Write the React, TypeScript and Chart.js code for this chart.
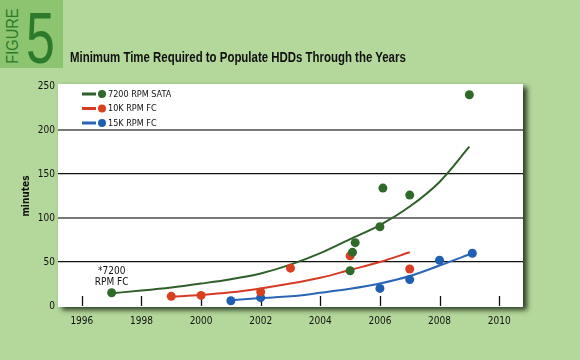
import React, { useEffect, useRef } from "react";
import { Chart, registerables } from "chart.js";

Chart.register(...registerables);

// ---- data ----
const xTickYears = [1996, 1998, 2000, 2002, 2004, 2006, 2008, 2010];

const sataYears = [1997, 2005, 2005.08, 2005.17, 2006, 2006.1, 2007, 2009];
const sataMinutes = [15, 40, 61, 72, 90, 134, 126, 240];
const fc10kYears = [1999, 2000, 2002, 2003, 2005, 2007];
const fc10kMinutes = [11, 12, 16, 43, 57, 42];
const fc15kYears = [2001, 2002, 2006, 2007, 2008, 2009.1];
const fc15kMinutes = [6, 9.5, 20, 30, 52, 60];

const sataTrendYears = [1997, 1998, 1999, 2000, 2001, 2002, 2003, 2004, 2005, 2006, 2007, 2008, 2009];
const sataTrend = [14.5, 17.5, 21, 25.5, 30.5, 37, 47, 60, 76, 92, 113, 141, 181];
const fc10kTrendYears = [1999, 2000, 2001, 2002, 2003, 2004, 2005, 2006, 2007];
const fc10kTrend = [10.5, 12.5, 15.5, 20, 25.5, 32, 41, 50, 61];
const fc15kTrendYears = [2001, 2002, 2003, 2004, 2005, 2006, 2007, 2008, 2009.1];
const fc15kTrend = [6.5, 9, 11, 15, 19.5, 25.5, 34, 46, 60];

const seriesNames = ["7200 RPM SATA", "10K RPM FC", "15K RPM FC"];
const pointColors = ["#2f6a2b", "#d8401f", "#1f5fb0"];
const lineColors = ["#2f5f2a", "#d63a24", "#2a66b5"];
const annotationLines = ["*7200", "RPM FC"];

const titleText = "Minimum Time Required to Populate HDDs Through the Years";
const yTitle = "minutes";

const FONT = "'DejaVu Sans Condensed', 'Liberation Sans Narrow', sans-serif";
const HEAD_FONT = "'Liberation Sans', Arial, sans-serif";

const zip = (xs: number[], ys: number[]) => xs.map((x, i) => ({ x, y: ys[i] }));

export default function App() {
  const ref = useRef<HTMLCanvasElement | null>(null);

  useEffect(() => {
    document.body.style.margin = "0";
    const canvas = ref.current;
    if (!canvas) return;

    const panelPlugin = {
      id: "panel",
      beforeDraw(chart: any) {
        const { ctx, chartArea } = chart;
        ctx.save();
        ctx.fillStyle = "#b4d79b";
        ctx.fillRect(0, 0, chart.width, chart.height);
        ctx.shadowColor = "rgba(30,45,25,0.9)";
        ctx.shadowBlur = 5;
        ctx.shadowOffsetX = 4;
        ctx.shadowOffsetY = 3;
        ctx.fillStyle = "#ffffff";
        ctx.fillRect(chartArea.left, chartArea.top - 2, chartArea.right - chartArea.left, chartArea.bottom - chartArea.top + 3);
        ctx.restore();
      },
      beforeDatasetsDraw(chart: any) {
        const { ctx, chartArea } = chart;
        const xs = chart.scales.x;
        ctx.save();
        ctx.strokeStyle = "#111";
        ctx.lineWidth = 1.3;
        xTickYears.forEach((v) => {
          const px = Math.round(xs.getPixelForValue(v)) + 0.5;
          ctx.beginPath();
          ctx.moveTo(px, chartArea.bottom - 10);
          ctx.lineTo(px, chartArea.bottom);
          ctx.stroke();
        });
        ctx.restore();
      },
      afterDraw(chart: any) {
        const { ctx, chartArea } = chart;
        ctx.save();
        // legend
        ctx.font = `9px ${FONT}`;
        ctx.textBaseline = "middle";
        ctx.textAlign = "left";
        seriesNames.forEach((name, i) => {
          const y = chartArea.top + 8 + i * 14.5;
          const lx = chartArea.left + 24;
          ctx.strokeStyle = lineColors[i];
          ctx.lineWidth = 3;
          ctx.beginPath();
          ctx.moveTo(lx, y);
          ctx.lineTo(lx + 14, y);
          ctx.stroke();
          ctx.fillStyle = pointColors[i];
          ctx.beginPath();
          ctx.arc(lx + 20, y, 4, 0, Math.PI * 2);
          ctx.fill();
          ctx.fillStyle = "#111";
          ctx.fillText(name, lx + 26, y + 0.5);
        });
        // annotation
        const xs = chart.scales.x;
        const ys = chart.scales.y;
        const ax = xs.getPixelForValue(sataYears[0]);
        const ay = ys.getPixelForValue(sataMinutes[0]);
        ctx.font = `10px ${FONT}`;
        ctx.textAlign = "center";
        ctx.fillStyle = "#111";
        ctx.fillText(annotationLines[0], ax, ay - 21);
        ctx.fillText(annotationLines[1], ax, ay - 10);
        ctx.restore();
      },
    };

    const scatterDs = (i: number, xs: number[], ys: number[]) => ({
      type: "scatter" as const,
      label: seriesNames[i],
      data: zip(xs, ys),
      backgroundColor: pointColors[i],
      borderColor: pointColors[i],
      pointRadius: 4.5,
      pointHoverRadius: 4.5,
      borderWidth: 0,
      order: 1,
    });
    const lineDs = (i: number, xs: number[], ys: number[]) => ({
      type: "line" as const,
      label: seriesNames[i] + " trend",
      data: zip(xs, ys),
      borderColor: lineColors[i],
      backgroundColor: lineColors[i],
      borderWidth: 2,
      pointRadius: 0,
      fill: false,
      tension: 0.4,
      cubicInterpolationMode: "monotone" as const,
      order: 2,
    });

    const chart = new Chart(canvas, {
      type: "scatter",
      data: {
        datasets: [
          scatterDs(0, sataYears, sataMinutes),
          scatterDs(1, fc10kYears, fc10kMinutes),
          scatterDs(2, fc15kYears, fc15kMinutes),
          lineDs(0, sataTrendYears, sataTrend),
          lineDs(1, fc10kTrendYears, fc10kTrend),
          lineDs(2, fc15kTrendYears, fc15kTrend),
        ] as any,
      },
      options: {
        responsive: false,
        animation: false,
        events: [],
        layout: { padding: { left: 8, right: 57, top: 86, bottom: 30 } },
        plugins: { legend: { display: false }, tooltip: { enabled: false }, title: { display: false } },
        scales: {
          x: {
            type: "linear",
            min: 1995.2,
            max: 2010.8,
            afterBuildTicks: (axis: any) => {
              axis.ticks = xTickYears.map((v) => ({ value: v }));
            },
            afterFit: (scale: any) => {
              scale.height = 24;
            },
            grid: { display: false, drawTicks: false },
            border: { display: false },
            ticks: {
              padding: 9,
              color: "#111",
              font: { family: FONT, size: 10 },
              maxRotation: 0,
              autoSkip: false,
              callback: (v: any) => String(v),
            },
          },
          y: {
            min: 0,
            max: 250,
            afterFit: (scale: any) => {
              scale.width = 50;
            },
            border: { display: false },
            grid: {
              drawTicks: false,
              color: (c: any) => {
                const v = c.tick?.value;
                if (v === 0 || v === 250) return "rgba(0,0,0,0)";
                return v % 100 === 0 ? "#777777" : "#111111";
              },
              lineWidth: (c: any) => (c.tick?.value % 100 === 0 ? 2 : 1.2),
            },
            ticks: {
              stepSize: 50,
              padding: 3,
              color: "#111",
              font: { family: FONT, size: 10 },
            },
            title: {
              display: true,
              text: yTitle,
              color: "#111",
              font: { family: FONT, size: 10, weight: "bold" },
              padding: { top: 12, bottom: 0 },
            },
          },
        },
      } as any,
      plugins: [panelPlugin],
    });
    return () => chart.destroy();
  }, []);

  return (
    <div style={{ position: "fixed", left: 0, top: 0, width: 580, height: 360, overflow: "hidden", background: "#b4d79b" }}>
      <canvas ref={ref} width={580} height={360} style={{ position: "absolute", left: 0, top: 0, width: 580, height: 360 }} />
      <div style={{ position: "absolute", left: 0, top: 0, width: 63, height: 68, background: "#8cc46f", overflow: "hidden" }}>
        <div
          style={{
            position: "absolute",
            left: 26,
            top: 2,
            fontFamily: HEAD_FONT,
            fontSize: 72,
            lineHeight: "72px",
            color: "#2d7a2d",
            transform: "scaleX(0.72)",
            transformOrigin: "0 0",
          }}
        >
          5
        </div>
        <div
          style={{
            position: "absolute",
            left: -22,
            top: 27,
            width: 70,
            height: 18,
            lineHeight: "18px",
            textAlign: "center",
            transform: "rotate(-90deg) scaleX(0.86)",
            fontFamily: HEAD_FONT,
            fontSize: 17,
            color: "#2d7a2d",
            whiteSpace: "nowrap",
          }}
        >
          FIGURE
        </div>
      </div>
      <div
        style={{
          position: "absolute",
          left: 70,
          top: 49,
          fontFamily: HEAD_FONT,
          fontWeight: "bold",
          fontSize: 14,
          lineHeight: "16px",
          color: "#111",
          whiteSpace: "nowrap",
          transform: "scaleX(0.817)",
          transformOrigin: "0 0",
        }}
      >
        {titleText}
      </div>
    </div>
  );
}
